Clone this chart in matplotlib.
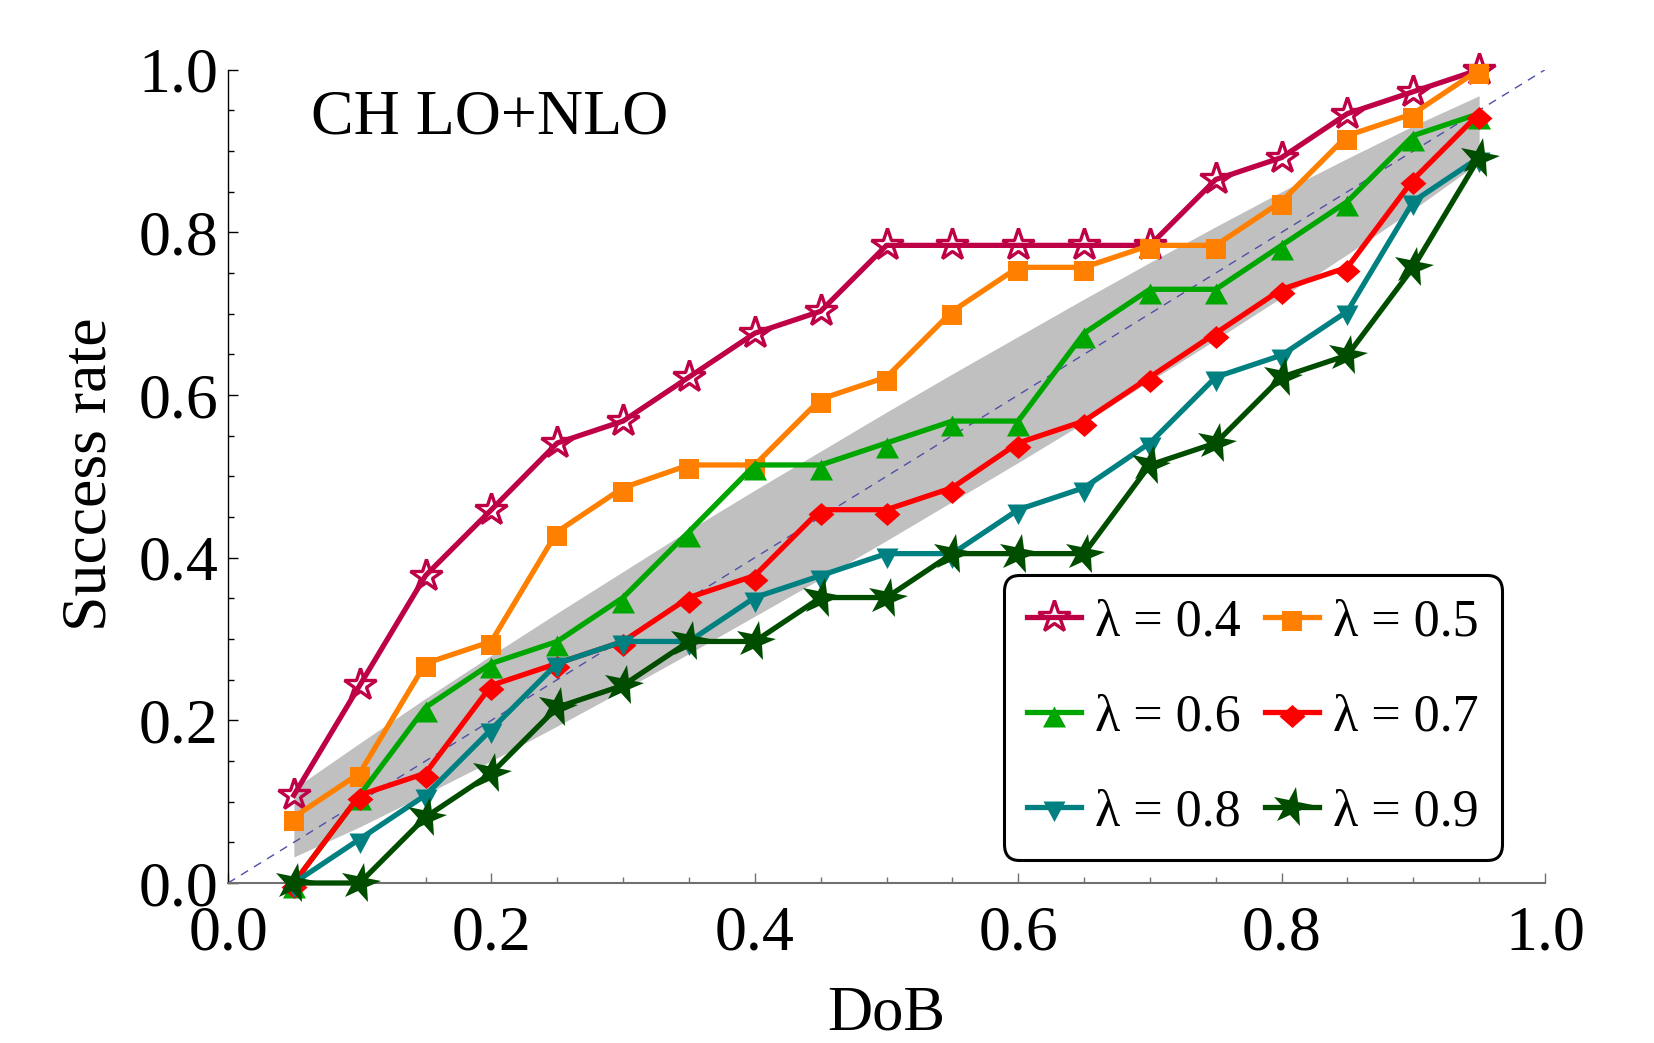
import numpy as np
import matplotlib
matplotlib.use("Agg")
import matplotlib.pyplot as plt
from matplotlib.path import Path
from matplotlib.markers import MarkerStyle
from matplotlib.transforms import Affine2D
from matplotlib.ticker import MultipleLocator, FormatStrFormatter

plt.rcParams['font.family'] = ['Liberation Serif', 'DejaVu Serif']

# ---- data -------------------------------------------------------------
dob = [0.05, 0.10, 0.15, 0.20, 0.25, 0.30, 0.35, 0.40, 0.45, 0.50,
       0.55, 0.60, 0.65, 0.70, 0.75, 0.80, 0.85, 0.90, 0.95]

rate_l04 = [0.108, 0.243, 0.378, 0.459, 0.541, 0.568, 0.622, 0.676, 0.703, 0.784,
            0.784, 0.784, 0.784, 0.784, 0.865, 0.892, 0.946, 0.973, 1.000]
rate_l05 = [0.081, 0.135, 0.270, 0.297, 0.432, 0.486, 0.514, 0.514, 0.595, 0.622,
            0.703, 0.757, 0.757, 0.784, 0.784, 0.838, 0.919, 0.946, 1.000]
rate_l06 = [0.000, 0.108, 0.216, 0.270, 0.297, 0.351, 0.432, 0.514, 0.514, 0.541,
            0.568, 0.568, 0.676, 0.730, 0.730, 0.784, 0.838, 0.919, 0.946]
rate_l07 = [0.000, 0.108, 0.135, 0.243, 0.270, 0.297, 0.351, 0.378, 0.459, 0.459,
            0.486, 0.541, 0.568, 0.622, 0.676, 0.730, 0.757, 0.865, 0.946]
rate_l08 = [0.000, 0.054, 0.108, 0.189, 0.270, 0.297, 0.297, 0.351, 0.378, 0.405,
            0.405, 0.459, 0.486, 0.541, 0.622, 0.649, 0.703, 0.838, 0.892]
rate_l09 = [0.000, 0.000, 0.081, 0.135, 0.216, 0.243, 0.297, 0.297, 0.351, 0.351,
            0.405, 0.405, 0.405, 0.514, 0.541, 0.622, 0.649, 0.757, 0.892]

band_low = [0.032, 0.069, 0.109, 0.150, 0.193, 0.237, 0.282, 0.328, 0.374, 0.421,
            0.469, 0.517, 0.566, 0.617, 0.668, 0.720, 0.773, 0.828, 0.886]
band_high = [0.116, 0.172, 0.227, 0.280, 0.332, 0.383, 0.434, 0.483, 0.531, 0.579,
             0.626, 0.672, 0.718, 0.763, 0.807, 0.850, 0.891, 0.931, 0.968]

labels = ["λ = 0.4", "λ = 0.5", "λ = 0.6", "λ = 0.7", "λ = 0.8", "λ = 0.9"]
ticks = [0.0, 0.2, 0.4, 0.6, 0.8, 1.0]

# ---- marker shapes (pixel units, glyph sits slightly below the point) --
PX_PER_PT = 100 / 72.0


def poly_marker(verts_px):
    verts = np.asarray(verts_px, dtype=float)
    path = Path(np.vstack([verts, verts[:1]]),
                [Path.MOVETO] + [Path.LINETO] * (len(verts) - 1) + [Path.CLOSEPOLY])
    size_pt = 2 * np.abs(verts).max() / PX_PER_PT
    return path, size_pt


sq_path, sq_size = poly_marker([(-10.0, 6.0), (10.0, 6.0), (10.0, -14.0), (-10.0, -14.0)])
up_path, up_size = poly_marker([(0.0, 6.0), (11.5, -15.0), (-11.5, -15.0)])
dn_path, dn_size = poly_marker([(-11.0, 6.0), (11.0, 6.0), (0.0, -14.5)])
dm_path, dm_size = poly_marker([(0.0, 7.5), (13.0, -4.0), (0.0, -15.5), (-13.0, -4.0)])
tilted_star = MarkerStyle('*', transform=Affine2D().rotate_deg(-12))

series = [
    (rate_l04, dict(color='#BE0046', marker='*', ms=24, mfc='none', mec='#BE0046', mew=2.4)),
    (rate_l05, dict(color='#FF8000', marker=sq_path, ms=sq_size, mfc='#FF8000', mew=0)),
    (rate_l06, dict(color='#00A600', marker=up_path, ms=up_size, mfc='#00A600', mew=0)),
    (rate_l07, dict(color='#FF0000', marker=dm_path, ms=dm_size, mfc='#FF0000', mew=0)),
    (rate_l08, dict(color='#008080', marker=dn_path, ms=dn_size, mfc='#008080', mew=0)),
    (rate_l09, dict(color='#004D00', marker=tilted_star, ms=30, mfc='#004D00', mew=0)),
]

# ---- figure -----------------------------------------------------------
fig = plt.figure(figsize=(16.54, 10.43), dpi=100)
ax = fig.add_axes([228 / 1654, 1 - 883 / 1043, 1317 / 1654, 813.3 / 1043])

ax.fill_between(dob, band_low, band_high, color='#C0C0C0', lw=0, zorder=1)
ax.axline((0, 0), slope=1, color='#5050A8', lw=1.0, ls=(0, (6, 5)), zorder=2)

handles = []
for i, ((vals, style), lab) in enumerate(zip(series, labels)):
    h, = ax.plot(dob, vals, lw=3.8, label=lab, clip_on=False, zorder=3 + i,
                 solid_joinstyle='round', **style)
    handles.append(h)

ax.set_xlim(0, 1)
ax.set_ylim(0, 1)

for side in ('top', 'right'):
    ax.spines[side].set_visible(False)
ax.spines['left'].set_color('black')
ax.spines['left'].set_linewidth(1.0)
ax.spines['bottom'].set_color('#707070')
ax.spines['bottom'].set_linewidth(1.5)

ax.xaxis.set_minor_locator(MultipleLocator(0.05))
ax.yaxis.set_minor_locator(MultipleLocator(0.05))
ax.set_xticks(ticks)
ax.set_yticks(ticks)
ax.xaxis.set_major_formatter(FormatStrFormatter('%.1f'))
ax.yaxis.set_major_formatter(FormatStrFormatter('%.1f'))

ax.tick_params(axis='both', which='both', direction='in', labelsize=46)
ax.tick_params(axis='x', which='major', length=7.5, width=1.0, color='#707070', pad=16)
ax.tick_params(axis='x', which='minor', length=4.5, width=1.0, color='#707070')
ax.tick_params(axis='y', which='major', length=7.5, width=1.0, color='black', pad=7)
ax.tick_params(axis='y', which='minor', length=4.5, width=1.0, color='black')

fig.text(886 / 1654, 1 - 1029 / 1043, "DoB", fontsize=45, ha='center', va='baseline')
fig.text(91 / 1654, 1 - 474 / 1043, "Success rate", fontsize=46, rotation=90,
         ha='center', va='center')

ax.text(0.063, 0.921, "CH LO+NLO", fontsize=46, ha='left', va='baseline',
        transform=ax.transAxes)

order = [0, 2, 4, 1, 3, 5]
leg = ax.legend([handles[k] for k in order], [labels[k] for k in order],
                loc='upper left', bbox_to_anchor=(0.589, 0.3786),
                bbox_transform=ax.transAxes, ncol=2, fontsize=37.5,
                frameon=True, fancybox=True, borderpad=0.45, handlelength=1.04,
                handletextpad=0.27, columnspacing=0.46, labelspacing=0.9,
                borderaxespad=0, framealpha=1, edgecolor='black')
frame = leg.get_frame()
frame.set_linewidth(2.2)
frame.set_boxstyle('round,pad=0,rounding_size=0.3')
leg.set_zorder(20)

fig.savefig('out.png', dpi=100)
